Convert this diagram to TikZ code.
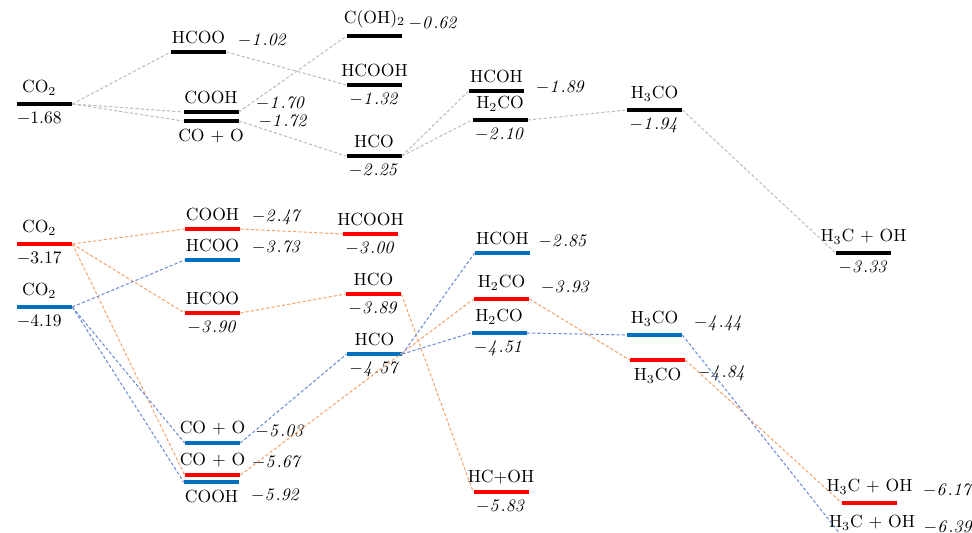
\documentclass[tikz,border=0pt]{standalone}
\usepackage{tikz}
\definecolor{engred}{RGB}{255,0,0}
\definecolor{engblue}{RGB}{0,112,192}
\definecolor{dashgray}{RGB}{190,190,190}
\definecolor{dashorange}{RGB}{244,166,110}
\definecolor{dashblue}{RGB}{110,140,215}
\newcommand{\enval}[1]{$\mathit{-#1}$}

\begin{document}
\begin{tikzpicture}
 \tikzset{
  lvl/.style={inner sep=0pt,minimum width=1.1cm,minimum height=2.2pt},
  lvk/.style={lvl,fill=black},
  lvr/.style={lvl,fill=engred,text=engred,every label/.append style={text=engred}},
  lvb/.style={lvl,fill=engblue,text=engblue,every label/.append style={text=engblue}},
  kdash/.style={dashgray,line width=0.6pt,dash pattern=on 1.8pt off 1.2pt},
  rdash/.style={kdash,dashorange},
  bdash/.style={kdash,dashblue},
  vr/.style={xshift=3pt,yshift=6.5pt},
  vb/.style={xshift=3pt,yshift=-7.5pt}}
 \useasboundingbox(0,0) rectangle (19.44,-10.66);
 \clip(0,0) rectangle (19.44,-10.66);
 \node[lvk,label={[xshift=-3pt]above:CO$_2$},label={[xshift=-3pt]below:$-1.68$}](kco2) at (0.89,-2.08){};
 \node[lvk,label=above:HCOO,label={[vr]right:\enval{1.02}}](khcoo) at (3.97,-1.04){};
 \node[lvk,label=above:COOH,label={[xshift=8.5pt,yshift=4.5pt,inner sep=1pt]right:\enval{1.70}}](kcooh) at (4.22,-2.24){};
 \node[lvk,label=below:CO $+$ O,label={[xshift=10pt,yshift=-1pt,inner sep=1pt]right:\enval{1.72}}](kcoo) at (4.22,-2.42){};
 \node[lvk,label=above:C(OH)$_2$,label={[vr,xshift=-3pt,yshift=0.5pt]right:\enval{0.62}}](kcoh2) at (7.49,-0.72){};
 \node[lvk,label=above:HCOOH,label=below:\enval{1.32}](khcooh) at (7.49,-1.70){};
 \node[lvk,label=above:HCO,label=below:\enval{2.25}](khco) at (7.48,-3.12){};
 \node[lvk,label=above:HCOH,label={[xshift=3pt,yshift=1.7pt]right:\enval{1.89}}](khcoh) at (9.93,-1.82){};
 \node[lvk,label=above:H$_2$CO,label=below:\enval{2.10}](kh2co) at (10.0,-2.40){};
 \node[lvk,label=above:H$_3$CO,label=below:\enval{1.94}](kh3co) at (13.09,-2.20){};
 \node[lvk,label=above:H$_3$C $+$ OH,label=below:\enval{3.33}](kh3c) at (17.27,-5.06){};
 \node[lvr,label={[xshift=-3pt]above:CO$_2$},label={[xshift=-3pt]below:$-3.17$}](rco2) at (0.89,-4.88){};
 \node[lvr,label=above:COOH,label={[vr]right:\enval{2.47}}](rcooh) at (4.25,-4.58){};
 \node[lvr,label=above:HCOO,label=below:\enval{3.90}](rhcoo) at (4.25,-6.26){};
 \node[lvr,label=above:HCOOH,label=below:\enval{3.00}](rhcooh) at (7.41,-4.68){};
 \node[lvr,label=above:HCO,label=below:\enval{3.89}](rhco) at (7.47,-5.88){};
 \node[lvr,label=above:H$_2$CO,label={[vr]right:\enval{3.93}}](rh2co) at (10.03,-5.98){};
 \node[lvr,label=below:H$_3$CO,label={[vb]right:\enval{4.84}}](rh3co) at (13.15,-7.20){};
 \node[lvr,label=above:CO $+$ O,label={[vr]right:\enval{5.67}}](rcoo) at (4.25,-9.50){};
 \node[lvr,label=above:HC+OH,label=below:\enval{5.83}](rhc) at (10.02,-9.84){};
 \node[lvr,label=above:H$_3$C $+$ OH,label={[vr,xshift=8pt]right:\enval{6.17}}](rh3c) at (17.39,-10.06){};
 \node[lvb,label={[xshift=-3pt]above:CO$_2$},label={[xshift=-3pt]below:$-4.19$}](bco2) at (0.89,-6.14){};
 \node[lvb,label=above:HCOO,label={[vr]right:\enval{3.73}}](bhcoo) at (4.25,-5.20){};
 \node[lvb,label=above:CO $+$ O,label={[vr,xshift=2pt]right:\enval{5.03}}](bcoo) at (4.25,-8.86){};
 \node[lvb,label=below:COOH,label={[vb]right:\enval{5.92}}](bcooh) at (4.23,-9.64){};
 \node[lvb,label=above:HCO,label=below:\enval{4.57}](bhco) at (7.49,-7.08){};
 \node[lvb,label=above:HCOH,label={[vr,xshift=-2pt]right:\enval{2.85}}](bhcoh) at (10.05,-5.06){};
 \node[lvb,label=above:H$_2$CO,label=below:\enval{4.51}](bh2co) at (9.98,-6.66){};
 \node[lvb,label=above:H$_3$CO,label={[vr]right:\enval{4.44}}](bh3co) at (13.09,-6.70){};
 \node[lvb,label=above:H$_3$C $+$ OH,label={[vr,xshift=7pt]right:\enval{6.39}}](bh3c) at (17.44,-10.78){};
 \draw[kdash](kco2.east)--(khcoo.west);
 \draw[kdash](kco2.east)--(kcooh.west);
 \draw[kdash](kco2.east)--(kcoo.west);
 \draw[kdash](khcoo.east)--(khcooh.west);
 \draw[kdash](kcooh.east)--(kcoh2.west);
 \draw[kdash](kcoo.east)--(khco.west);
 \draw[kdash](khco.east)--(khcoh.west);
 \draw[kdash](khco.east)--(kh2co.west);
 \draw[kdash](kh2co.east)--(kh3co.west);
 \draw[kdash](kh3co.east)--(kh3c.west);
 \draw[rdash](rco2.east)--(rcooh.west);
 \draw[rdash](rco2.east)--(rhcoo.west);
 \draw[rdash](rco2.east)--(rcoo.west);
 \draw[rdash](rcooh.east)--(rhcooh.west);
 \draw[rdash](rhcoo.east)--(rhco.west);
 \draw[rdash](rhco.east)--(rhc.west);
 \draw[rdash](rcoo.east)--(rh2co.west);
 \draw[rdash](rh2co.east)--(rh3co.west);
 \draw[rdash](rh3co.east)--(rh3c.west);
 \draw[bdash](bco2.east)--(bhcoo.west);
 \draw[bdash](bco2.east)--(bcoo.west);
 \draw[bdash](bco2.east)--(bcooh.west);
 \draw[bdash](bcoo.east)--(bhco.west);
 \draw[bdash](bhco.east)--(bhcoh.west);
 \draw[bdash](bhco.east)--(bh2co.west);
 \draw[bdash](bh2co.east)--(bh3co.west);
 \draw[bdash](bh3co.east)--(bh3c.west);
\end{tikzpicture}
\end{document}
